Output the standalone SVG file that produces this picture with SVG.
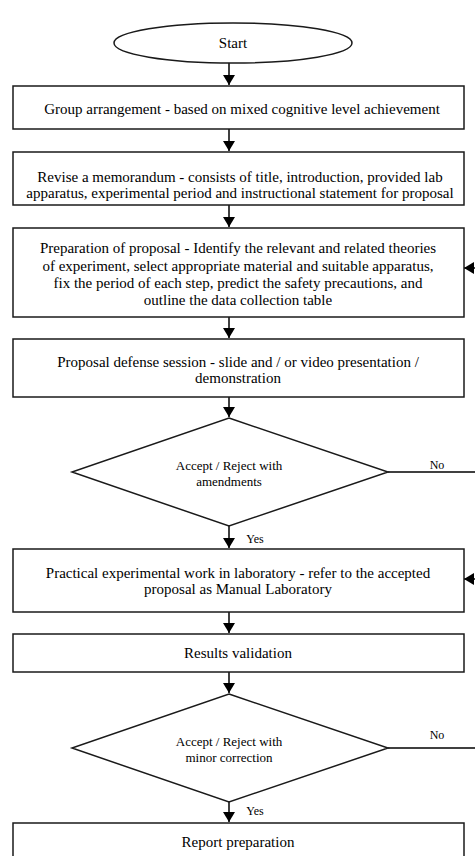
<svg xmlns="http://www.w3.org/2000/svg" width="475" height="856" viewBox="0 0 475 856">
<defs>
<marker id="ah" markerWidth="10" markerHeight="12" refX="10" refY="6" orient="auto" markerUnits="userSpaceOnUse">
<path d="M0,0 L10,6 L0,12 Z" fill="#000"/>
</marker>
<style>
.sh{fill:#fff;stroke:#1a1a1a;stroke-width:1.5}
.t{font-family:"Liberation Serif","Times New Roman",serif;font-size:15px;fill:#000;text-anchor:middle}
.s{font-family:"Liberation Serif","Times New Roman",serif;font-size:13px;fill:#000;text-anchor:middle}
.l{font-family:"Liberation Serif","Times New Roman",serif;font-size:12px;fill:#000;text-anchor:middle}
.c{fill:none;stroke:#000;stroke-width:1.5}
</style>
</defs>
<rect width="475" height="856" fill="#fff"/>
<g id="connectors">
<line class="c" x1="229" y1="62" x2="229" y2="85" marker-end="url(#ah)"/>
<line class="c" x1="229" y1="129" x2="229" y2="151" marker-end="url(#ah)"/>
<line class="c" x1="229" y1="205" x2="229" y2="227" marker-end="url(#ah)"/>
<line class="c" x1="229" y1="317" x2="229" y2="338" marker-end="url(#ah)"/>
<line class="c" x1="229" y1="397" x2="229" y2="417" marker-end="url(#ah)"/>
<line class="c" x1="229" y1="526" x2="229" y2="548" marker-end="url(#ah)"/>
<line class="c" x1="229" y1="612" x2="229" y2="633" marker-end="url(#ah)"/>
<line class="c" x1="229" y1="672" x2="229" y2="693" marker-end="url(#ah)"/>
<line class="c" x1="229" y1="802" x2="229" y2="822" marker-end="url(#ah)"/>
<line class="c" x1="388" y1="472" x2="476" y2="472"/>
<line class="c" x1="388" y1="748" x2="476" y2="748"/>
<line class="c" x1="478" y1="268" x2="464" y2="268" marker-end="url(#ah)"/>
<line class="c" x1="478" y1="579" x2="464" y2="579" marker-end="url(#ah)"/>
<text class="l" x="437" y="469">No</text>
<text class="l" x="437" y="739">No</text>
<text class="l" x="435" y="264">No</text>
<text class="l" x="255" y="543">Yes</text>
<text class="l" x="255" y="815">Yes</text>
</g>
<g id="start">
<ellipse class="sh" cx="233" cy="43" rx="119" ry="20"/>
<text class="t" x="233" y="48">Start</text>
</g>
<g id="group">
<rect class="sh" x="13" y="86" width="451" height="43"/>
<text class="t" x="242" y="114">Group arrangement - based on mixed cognitive level achievement</text>
</g>
<g id="memo">
<rect class="sh" x="13" y="152" width="451" height="53"/>
<text class="t" x="240" y="182">Revise a memorandum - consists of title, introduction, provided lab</text>
<text class="t" x="240" y="198">apparatus, experimental period and instructional statement for proposal</text>
</g>
<g id="proposal">
<rect class="sh" x="13" y="228" width="451" height="89"/>
<text class="t" x="238" y="253">Preparation of proposal - Identify the relevant and related theories</text>
<text class="t" x="238" y="271">of experiment, select appropriate material and suitable apparatus,</text>
<text class="t" x="238" y="288">fix the period of each step, predict the safety precautions, and</text>
<text class="t" x="238" y="305">outline the data collection table</text>
</g>
<g id="defense">
<rect class="sh" x="13" y="339" width="451" height="58"/>
<text class="t" x="238" y="367">Proposal defense session - slide and / or video presentation /</text>
<text class="t" x="238" y="383">demonstration</text>
</g>
<g id="decision1">
<polygon class="sh" points="229,418 388,472 229,526 72,472"/>
<text class="s" x="229" y="470">Accept / Reject with</text>
<text class="s" x="229" y="486">amendments</text>
</g>
<g id="practical">
<rect class="sh" x="13" y="549" width="451" height="63"/>
<text class="t" x="238" y="578">Practical experimental work in laboratory - refer to the accepted</text>
<text class="t" x="238" y="594">proposal as Manual Laboratory</text>
</g>
<g id="validation">
<rect class="sh" x="13" y="634" width="451" height="38"/>
<text class="t" x="238" y="658">Results validation</text>
</g>
<g id="decision2">
<polygon class="sh" points="229,694 388,748 229,802 72,748"/>
<text class="s" x="229" y="746">Accept / Reject with</text>
<text class="s" x="229" y="762">minor correction</text>
</g>
<g id="report">
<rect class="sh" x="13" y="823" width="451" height="40"/>
<text class="t" x="238" y="847">Report preparation</text>
</g>
</svg>
